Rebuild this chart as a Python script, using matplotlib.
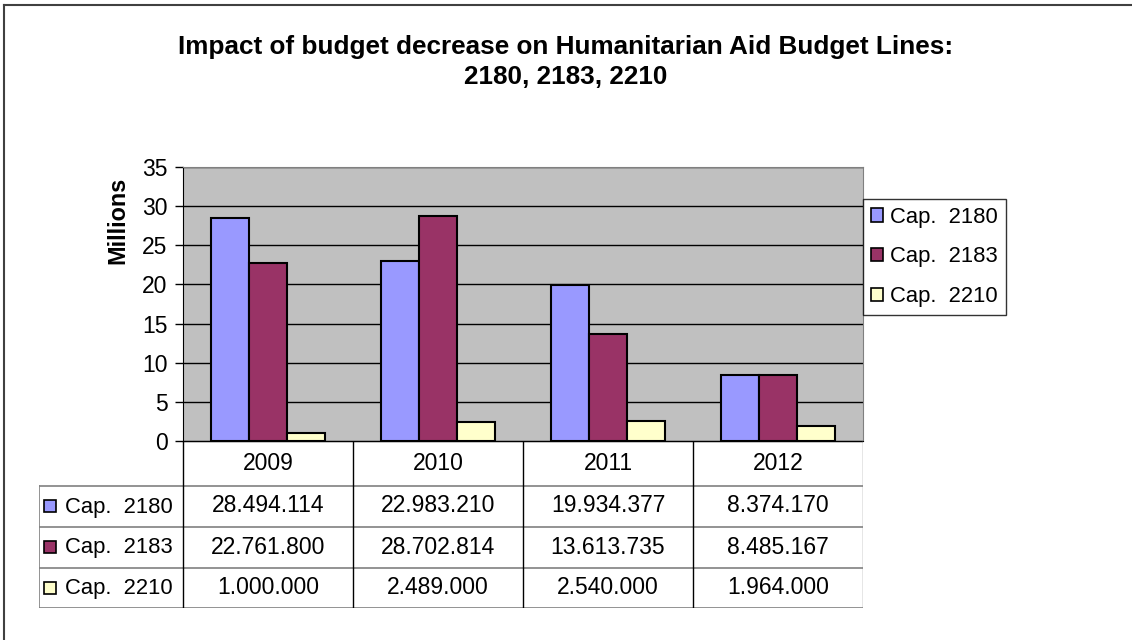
import numpy as np
import matplotlib
matplotlib.use("Agg")
from matplotlib import pyplot as plt
from matplotlib.patches import Patch, Rectangle
from matplotlib.lines import Line2D

plt.rcParams['font.family'] = ['Liberation Sans', 'DejaVu Sans']

years = ['2009', '2010', '2011', '2012']
series_names = ['Cap.  2180', 'Cap.  2183', 'Cap.  2210']
cap_2180 = [28494114, 22983210, 19934377, 8374170]
cap_2183 = [22761800, 28702814, 13613735, 8485167]
cap_2210 = [1000000, 2489000, 2540000, 1964000]
colors = ['#9999ff', '#993366', '#ffffcc']

W, H = 1132, 640
FS = 16.5
FS_LABEL = 15.8


def fx(px):
    return px / W


def fy(py):
    return 1 - py / H


def fmt(v):
    # thousands separated by dots
    return f'{v:,}'.replace(',', '.')


fig = plt.figure(figsize=(W / 100, H / 100), dpi=100)
fig.patch.set_facecolor('white')

# outer chart border (top and left)
fig.add_artist(Line2D([fx(4), fx(4)], [fy(5), 0], transform=fig.transFigure, color='#404040', lw=1.5))
fig.add_artist(Line2D([fx(4), 1], [fy(5), fy(5)], transform=fig.transFigure, color='#404040', lw=1.5))

fig.text(0.5, fy(47), 'Impact of budget decrease on Humanitarian Aid Budget Lines:',
         ha='center', va='center', fontsize=18.8, fontweight='bold')
fig.text(0.5, fy(77), '2180, 2183, 2210', ha='center', va='center', fontsize=18.8, fontweight='bold')

left, right, top, bottom = 183, 863, 167, 441
ax = fig.add_axes([fx(left), fy(bottom), fx(right - left), (bottom - top) / H])
ax.set_facecolor('#c0c0c0')

series = [cap_2180, cap_2183, cap_2210]
x = np.arange(len(years))
bw = 1 / 4.5
for i, (vals, c) in enumerate(zip(series, colors)):
    ax.bar(x + (i - 1) * bw, np.array(vals) / 1e6, width=bw, color=c,
           edgecolor='black', linewidth=1.5, zorder=3)

ax.set_xlim(-0.5, 3.5)
ax.set_ylim(0, 35)
ax.set_yticks(range(0, 36, 5))
ax.set_xticks([])
ax.yaxis.grid(True, color='black', linewidth=1)
ax.set_axisbelow(True)
ax.tick_params(axis='y', length=6, width=1, pad=5, labelsize=FS, direction='out')
for s in ['top', 'right']:
    ax.spines[s].set_color('#808080')
ax.spines['bottom'].set_color('black')
ax.spines['left'].set_color('black')

fig.text(fx(118), fy(220), 'Millions', rotation=90, ha='center', va='center',
         fontsize=16.8, fontweight='bold')

# legend on the right
handles = [Patch(facecolor=c, edgecolor='black', linewidth=1.2) for c in colors]
leg = fig.legend(handles, series_names, loc='upper left', bbox_to_anchor=(fx(863), fy(199)),
                 bbox_transform=fig.transFigure, borderaxespad=0, frameon=True, fancybox=False,
                 fontsize=FS_LABEL, handlelength=0.55, handleheight=0.55, handletextpad=0.35,
                 labelspacing=0.85, borderpad=0.35)
leg.get_frame().set_edgecolor('black')
leg.get_frame().set_linewidth(1)

# data table under the plot
tab_left = 39
row_edges = [0, 45, 86, 127, 167]
tab = fig.add_axes([fx(tab_left), fy(bottom + row_edges[-1]), fx(right - tab_left), row_edges[-1] / H])
x0 = -0.5 - (left - tab_left) / 170
tab.set_xlim(x0, 3.5)
tab.set_ylim(row_edges[-1], 0)
tab.axis('off')

grey = '#808080'
# horizontal lines
tab.plot([-0.5, 3.5], [row_edges[0]] * 2, color='black', lw=1)
for yv in row_edges[1:]:
    tab.plot([x0, 3.5], [yv, yv], color=grey, lw=1.2)
# vertical lines
tab.plot([x0, x0], [row_edges[1], row_edges[-1]], color=grey, lw=1.2)
for xv in np.arange(-0.5, 3.6, 1):
    col = grey if xv == 3.5 else 'black'
    tab.plot([xv, xv], [row_edges[0], row_edges[-1]], color=col, lw=1)

for j, yr in enumerate(years):
    tab.text(j, (row_edges[0] + row_edges[1]) / 2 + 6, yr, ha='center', va='baseline', fontsize=FS)

for i, (name, vals, c) in enumerate(zip(series_names, series, colors)):
    yc = (row_edges[i + 1] + row_edges[i + 2]) / 2
    base = yc + 6
    sq = 12 / 170
    tab.add_patch(Rectangle((x0 + 5 / 170, base - 12.5), sq, 12, facecolor=c, edgecolor='black', lw=1.2))
    tab.text(x0 + 26 / 170, base, name, ha='left', va='baseline', fontsize=FS_LABEL)
    for j, v in enumerate(vals):
        tab.text(j, base, fmt(v), ha='center', va='baseline', fontsize=FS)

fig.savefig('out.png', dpi=100)
